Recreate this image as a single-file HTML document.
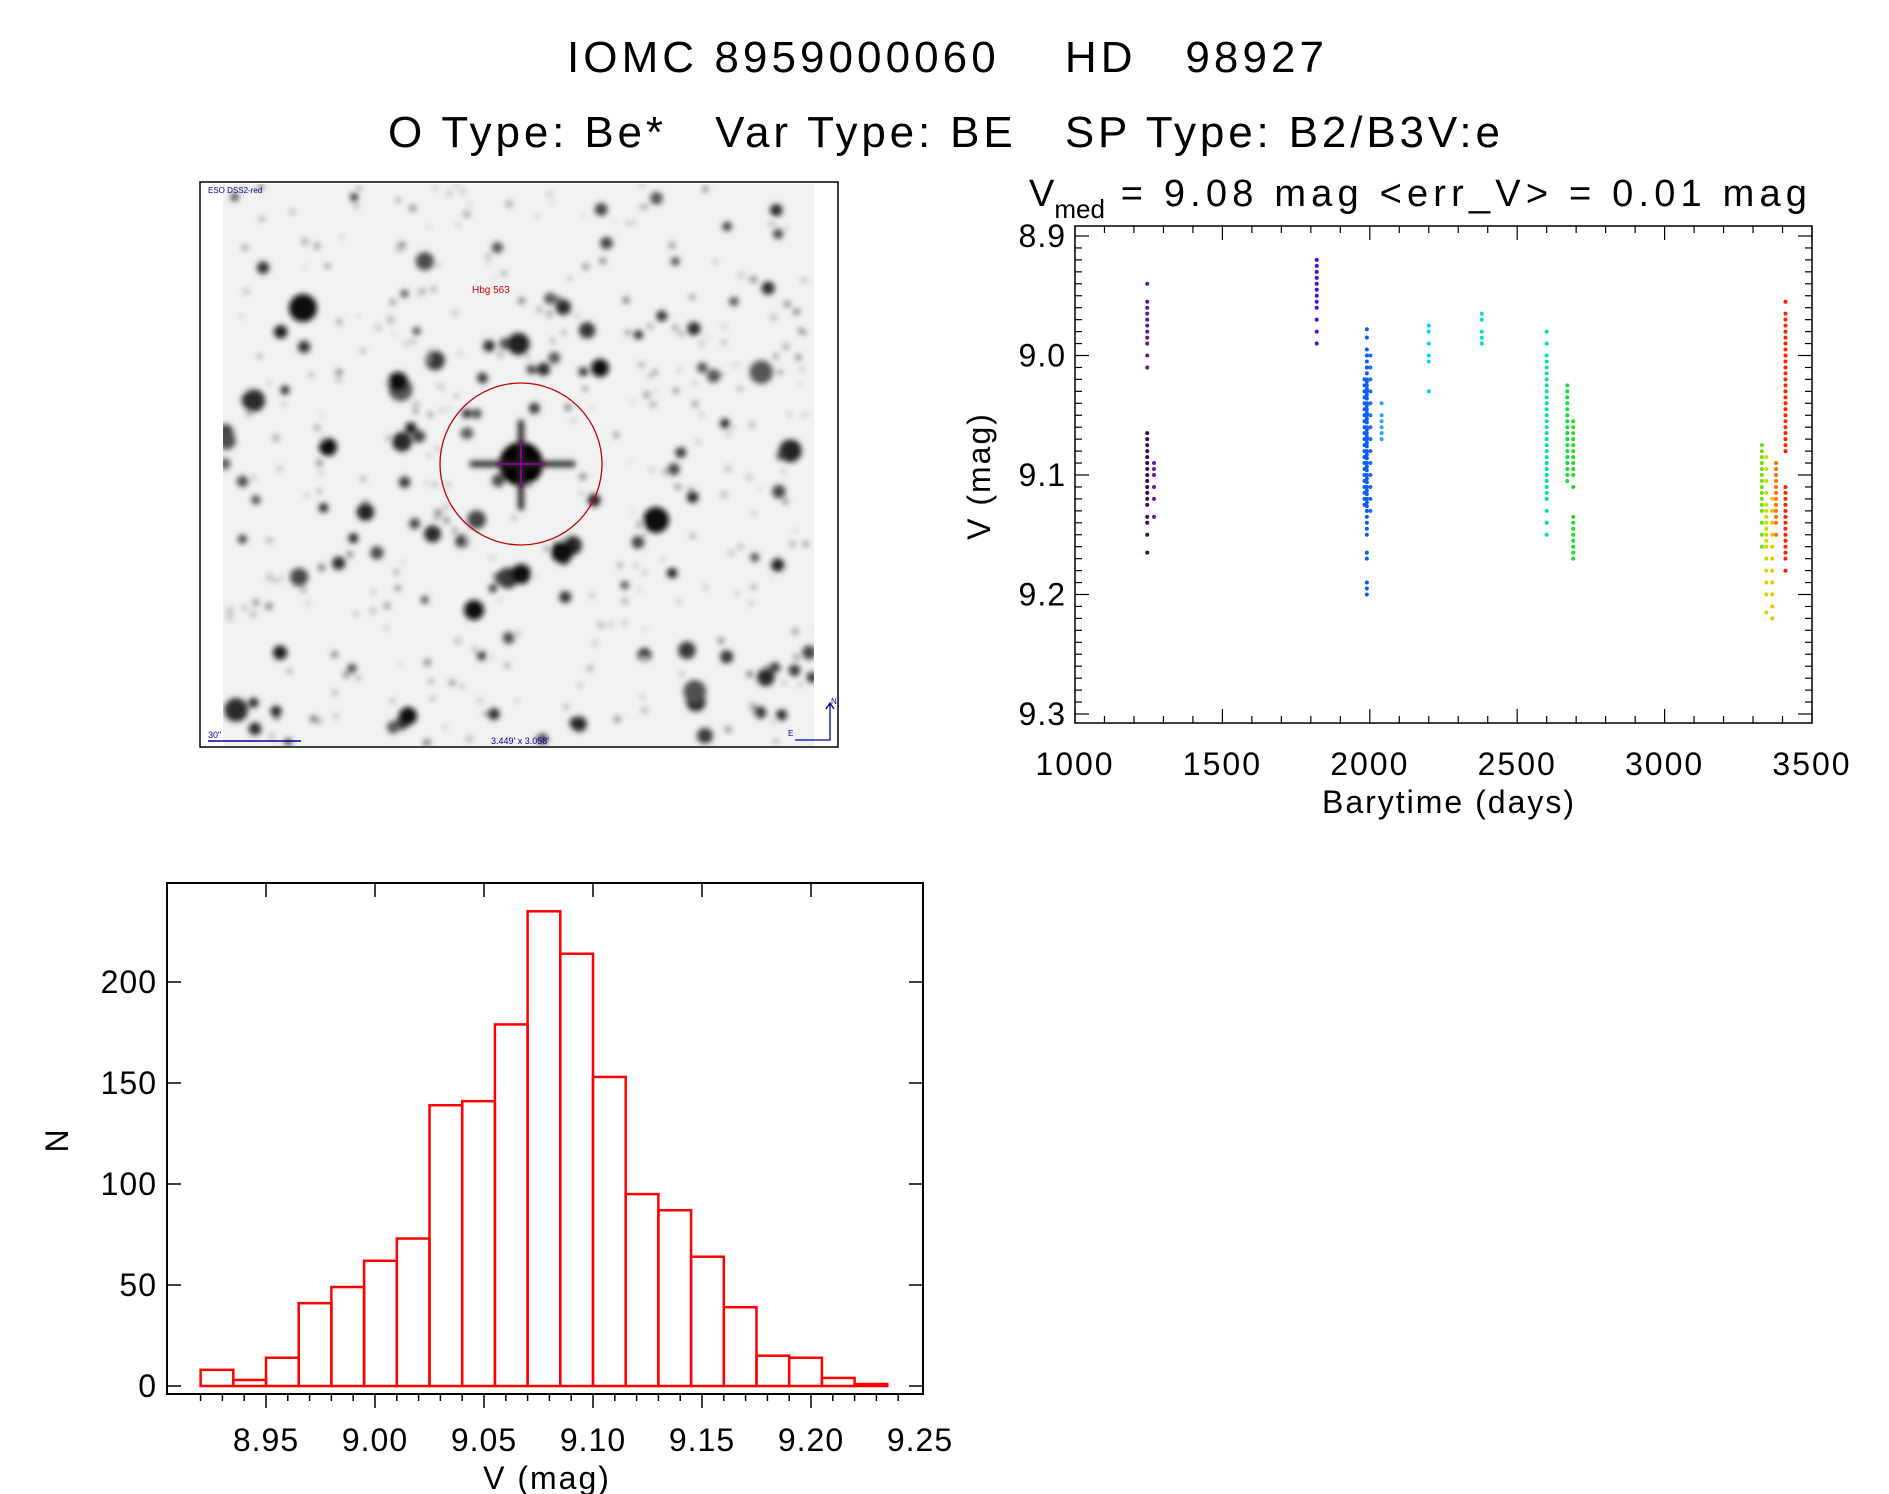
<!DOCTYPE html>
<html><head><meta charset="utf-8"><style>
html,body{margin:0;padding:0;background:#fff;}
svg{display:block;font-family:"Liberation Sans",sans-serif;}
</style></head><body>
<svg id="page" width="1889" height="1494" viewBox="0 0 1889 1494">
<text x="567" y="72" font-size="44" textLength="757" lengthAdjust="spacing" fill="#000" xml:space="preserve">IOMC 8959000060    HD   98927</text>
<text x="388" y="147" font-size="44" textLength="1112" lengthAdjust="spacing" fill="#000" xml:space="preserve">O Type: Be*   Var Type: BE   SP Type: B2/B3V:e</text>

<g id="img">
  <defs><filter id="bl" x="-50%" y="-50%" width="200%" height="200%"><feGaussianBlur stdDeviation="3"/></filter>
  <clipPath id="imgclip"><rect x="223" y="184" width="591" height="562"/></clipPath></defs>
  <rect x="200" y="182" width="638" height="565" fill="#fff" stroke="#000" stroke-width="1.5"/>
  <rect x="223" y="184" width="591" height="562" fill="#f2f2f2"/>
  <g id="stars" clip-path="url(#imgclip)" filter="url(#bl)"></g>
  <circle cx="521" cy="464" r="81" fill="none" stroke="#c00000" stroke-width="1.3"/>
  <path d="M495 464 H547 M521 440 V488" stroke="#a000a0" stroke-width="1.5"/>
  <text x="472" y="293" font-size="10" fill="#d00000">Hbg 563</text>
  <text x="208" y="193" font-size="8" fill="#0000a0">ESO DSS2-red</text>
  <text x="208" y="738" font-size="9" fill="#0000a0">30"</text>
  <path d="M208 741 H301" stroke="#0000a0" stroke-width="1.5"/>
  <text x="520" y="744" font-size="9" fill="#0000a0" text-anchor="middle">3.449' x 3.058'</text>
  <path d="M830 703 V740 H795 M826 709 L830 703 L834 709" stroke="#0000a0" stroke-width="1.3" fill="none"/>
  <text x="831" y="704" font-size="8" fill="#0000a0">N</text><text x="788" y="736" font-size="8" fill="#0000a0">E</text>
</g>

<g id="lc"></g>
<g id="hist"></g>
</svg>
<script>
// ---------- light curve data ----------
const lcTimes = [1245,1245,1268,1820,1990,1982,2002,2040,2200,2380,2600,2670,2690,3330,3345,3365,3378,3410];
const lcColors = ['#5a1a8a','#3c0a50','#6a1b9a','#3a12e0','#0a5cff','#0a5cff','#1a6cff','#20a8ff','#00d8f0','#00e0c8','#00e890','#10e040','#22e020','#70e000','#c0e000','#f0c000','#ff7000','#ff2400'];
const lcMags = [
 [8.94,8.955,8.96,8.965,8.97,8.975,8.98,8.985,8.99,9.0,9.01],
 [9.065,9.07,9.075,9.08,9.085,9.09,9.095,9.1,9.105,9.11,9.115,9.12,9.125,9.135,9.14,9.15,9.165],
 [9.09,9.095,9.1,9.11,9.12,9.135],
 [8.92,8.925,8.93,8.935,8.94,8.945,8.95,8.955,8.96,8.97,8.98,8.99],
 [8.978,8.985,8.995,9.0,9.005,9.01,9.015,9.02,9.022,9.025,9.028,9.03,9.033,9.036,9.04,9.042,9.045,9.048,9.05,9.053,9.056,9.06,9.062,9.065,9.068,9.07,9.073,9.076,9.08,9.083,9.086,9.09,9.093,9.096,9.1,9.103,9.106,9.11,9.113,9.116,9.12,9.123,9.126,9.13,9.135,9.14,9.145,9.15,9.165,9.17,9.19,9.195,9.2],
 [9.02,9.025,9.03,9.035,9.04,9.045,9.05,9.055,9.06,9.065,9.07,9.075,9.08,9.085,9.09,9.095,9.1,9.105,9.11,9.115,9.12,9.125],
 [9.0,9.01,9.02,9.03,9.04,9.05,9.06,9.07,9.08,9.09,9.1,9.11,9.12,9.13],
 [9.04,9.05,9.055,9.06,9.065,9.07],
 [8.975,8.98,8.99,9.0,9.005,9.03],
 [8.965,8.97,8.98,8.985,8.99],
 [8.98,8.99,9.0,9.005,9.01,9.015,9.02,9.025,9.03,9.035,9.04,9.045,9.05,9.055,9.06,9.065,9.07,9.075,9.08,9.085,9.09,9.095,9.1,9.105,9.11,9.115,9.12,9.13,9.14,9.15],
 [9.025,9.03,9.035,9.04,9.045,9.05,9.055,9.06,9.065,9.07,9.075,9.08,9.085,9.09,9.095,9.1,9.105],
 [9.055,9.06,9.065,9.07,9.075,9.08,9.085,9.09,9.095,9.1,9.11,9.135,9.14,9.145,9.15,9.155,9.16,9.165,9.17],
 [9.075,9.08,9.085,9.09,9.095,9.1,9.105,9.11,9.115,9.12,9.125,9.13,9.14,9.15,9.16],
 [9.085,9.095,9.105,9.115,9.125,9.13,9.135,9.14,9.145,9.15,9.155,9.16,9.17,9.18,9.19,9.2,9.215],
 [9.12,9.13,9.14,9.15,9.16,9.17,9.18,9.19,9.2,9.21,9.22],
 [9.09,9.095,9.1,9.105,9.11,9.115,9.12,9.125,9.13,9.135,9.14,9.15],
 [8.955,8.965,8.97,8.975,8.98,8.985,8.99,8.995,9.0,9.005,9.01,9.015,9.02,9.025,9.03,9.035,9.04,9.045,9.05,9.055,9.06,9.065,9.07,9.075,9.08,9.11,9.115,9.12,9.125,9.13,9.135,9.14,9.145,9.15,9.155,9.16,9.165,9.17,9.18]
];
const lcXTicks = [1000,1500,2000,2500,3000,3500];
const lcYTicks = [8.9,9.0,9.1,9.2,9.3];
const lcYTickLabels = ['8.9','9.0','9.1','9.2','9.3'];
// ---------- histogram data ----------
const histStart = 8.92;
const histWidth = 0.015;
const histCounts = [8,3,14,41,49,62,73,139,141,179,235,214,153,95,87,64,39,15,14,4,1];
const histXTicks = [8.95,9.00,9.05,9.10,9.15,9.20,9.25];
const histXTickLabels = ['8.95','9.00','9.05','9.10','9.15','9.20','9.25'];
const histYTicks = [0,50,100,150,200];

const NS='http://www.w3.org/2000/svg';
function mk(parent,tag,attrs){const e=document.createElementNS(NS,tag);for(const k in attrs)e.setAttribute(k,attrs[k]);parent.appendChild(e);return e;}

// stars (decorative image texture)
(function(){
  const g=document.getElementById('stars');
  let s=12345;function r(){s=(s*16807)%2147483647;return s/2147483647;}
  for(let i=0;i<420;i++){
    const x=223+r()*591,y=184+r()*562,big=r();
    const rad=big>0.93?7+r()*5:(big>0.7?4+r()*3:1.5+r()*2.5);
    const sh=big>0.7?30+r()*60:120+r()*90;
    mk(g,'circle',{cx:x,cy:y,r:rad,fill:`rgb(${sh|0},${sh|0},${sh|0})`});
  }
  mk(g,'circle',{cx:521,cy:464,r:22,fill:'#000'});
  mk(g,'path',{d:'M470 464 H575 M521 420 V510',stroke:'#222','stroke-width':6});
  const big=[[303,308,14],[656,520,13],[398,382,10],[562,552,11],[474,610,10],[600,368,9],[328,447,9],[521,574,10],[408,716,9]];
  big.forEach(b=>mk(g,'circle',{cx:b[0],cy:b[1],r:b[2],fill:'#111'}));
})();

// light curve
(function(){
  const g=document.getElementById('lc');
  const L=1075,R=1812,T=226,B=723;
  const x=t=>L+(t-1000)/2500*(R-L);
  const y=m=>236+(m-8.9)/0.4*(714-236);
  const sub=mk(g,'text',{x:1029,y:206,'font-size':38,fill:'#000'});
  
  
  sub.setAttribute('xml:space','preserve');
  sub.innerHTML='V<tspan font-size="26" dy="12">med</tspan><tspan dy="-12" textLength="702" lengthAdjust="spacing">  =  9.08  mag  &lt;err_V&gt;  =  0.01  mag</tspan>';
  const fr=mk(g,'rect',{x:L,y:T,width:R-L,height:B-T,fill:'none',stroke:'#000','stroke-width':1.5});
  
  
  for(let t=1000;t<=3500;t+=100){const xx=x(t),len=(t%500===0)?14:7;
    mk(g,'line',{x1:xx,y1:B,x2:xx,y2:B-len,stroke:'#000','stroke-width':1.2});
    mk(g,'line',{x1:xx,y1:T,x2:xx,y2:T+len,stroke:'#000','stroke-width':1.2});}
  for(let k=0;k<=40;k++){const m=8.9+k*0.01;const yy=y(m);if(yy<T||yy>B)continue;const len=(k%10===0)?14:7;
    mk(g,'line',{x1:L,y1:yy,x2:L+len,y2:yy,stroke:'#000','stroke-width':1.2});
    mk(g,'line',{x1:R,y1:yy,x2:R-len,y2:yy,stroke:'#000','stroke-width':1.2});}
  lcXTicks.forEach(t=>{const e=mk(g,'text',{x:x(t),y:775,'font-size':32,'letter-spacing':2,'text-anchor':'middle'});e.textContent=t;
    
    });
  lcYTicks.forEach((m,i)=>{const e=mk(g,'text',{x:1066,y:y(m)+11,'font-size':32,'letter-spacing':1,'text-anchor':'end'});e.textContent=lcYTickLabels[i];
    
    });
  const xl=mk(g,'text',{x:1449,y:813,'font-size':32,'letter-spacing':2,'text-anchor':'middle'});xl.textContent='Barytime (days)';
  
  
  const yl=mk(g,'text',{x:0,y:0,'font-size':32,'letter-spacing':2,'text-anchor':'middle',transform:'translate(990,476) rotate(-90)'});yl.textContent='V (mag)';
  
  
  lcMags.forEach((arr,gi)=>{arr.forEach(m=>{
    const p=mk(g,'circle',{cx:x(lcTimes[gi]),cy:y(m),r:2,fill:lcColors[gi]});
    
    
  });});
})();

// histogram
(function(){
  const g=document.getElementById('hist');
  const L=167,R=923,T=883,B=1394;
  const x=v=>266+(v-8.95)/0.30*(920-266);
  const y=n=>1386-n/50*101;
  histCounts.forEach((c,i)=>{const x0=x(histStart+i*histWidth),x1=x(histStart+(i+1)*histWidth);
    const b=mk(g,'rect',{x:x0,y:y(c),width:x1-x0,height:y(0)-y(c),fill:'none',stroke:'#ff0000','stroke-width':2.5});
    
    });
  const fr=mk(g,'rect',{x:L,y:T,width:R-L,height:B-T,fill:'none',stroke:'#000','stroke-width':2});
  
  
  for(let k=0;k<=32;k++){const v=8.92+k*0.01;const xx=x(v);if(xx<L||xx>R)continue;
    const major=Math.abs(Math.round(v*20)-v*20)<1e-6;const len=major?14:7;
    mk(g,'line',{x1:xx,y1:B,x2:xx,y2:B+len,stroke:'#000','stroke-width':1.5});
    if(major)mk(g,'line',{x1:xx,y1:T,x2:xx,y2:T+len,stroke:'#000','stroke-width':1.5});}
  histYTicks.forEach(n=>{mk(g,'line',{x1:L,y1:y(n),x2:L+14,y2:y(n),stroke:'#000','stroke-width':1.5});
    mk(g,'line',{x1:R,y1:y(n),x2:R-14,y2:y(n),stroke:'#000','stroke-width':1.5});
    const e=mk(g,'text',{x:157,y:y(n)+11,'font-size':32,'letter-spacing':1,'text-anchor':'end'});e.textContent=n;
    
    });
  histXTicks.forEach((v,i)=>{const e=mk(g,'text',{x:x(v),y:1451,'font-size':32,'letter-spacing':1,'text-anchor':'middle'});e.textContent=histXTickLabels[i];
    
    });
  const xl=mk(g,'text',{x:547,y:1489,'font-size':32,'letter-spacing':2,'text-anchor':'middle'});xl.textContent='V (mag)';
  
  
  const yl=mk(g,'text',{x:0,y:0,'font-size':32,'text-anchor':'middle',transform:'translate(68,1141) rotate(-90)'});yl.textContent='N';
  
  
})();
</script>
</body></html>
